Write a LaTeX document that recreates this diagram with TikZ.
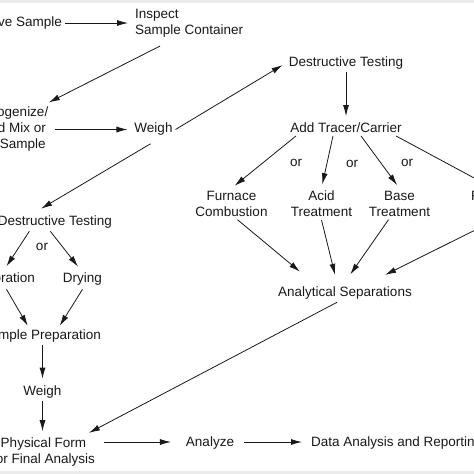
\documentclass[tikz,border=0pt]{standalone}
\usepackage{fontspec}
\setmainfont{Liberation Sans}
\usetikzlibrary{arrows.meta,calc}
\tikzset{
  lbl/.style={inner sep=3pt, outer sep=0pt, font=\fontsize{13.5pt}{16pt}\selectfont, text=black!90},
  arr/.style={draw=black!90, line width=0.8pt, -{Latex[length=11pt,width=6pt]}, shorten >=4pt},
  strip/.style={fill=black!8, draw=none}
}
\begin{document}
\begin{tikzpicture}[x=1pt,y=-1pt]
\useasboundingbox (0,0) rectangle (474,474);
\clip (0,0) rectangle (474,474);
\fill[white] (0,0) rectangle (474,474);
\fill[strip] (0,0) rectangle (474,3);
\fill[strip] (0,471) rectangle (474,474);

% nodes
\node[lbl, anchor=east] (recv) at (65,23) {Receive Sample};
\node[lbl, anchor=west, align=left] (insp) at (132,23) {Inspect\\Sample Container};
\node[lbl, align=center] (homog) at (8.5,129.5) {Homogenize/\\Blend Mix or\\Sub-Sample};
\node[lbl] (weigh1) at (153.5,129.5) {Weigh};
\node[lbl] (dt) at (346,63) {Destructive Testing};
\node[lbl] (at) at (346,128) {Add Tracer/Carrier};
\node[lbl, align=center] (furn) at (231.5,204) {Furnace\\Combustion};
\node[lbl, align=center] (acid) at (321.5,204) {Acid\\Treatment};
\node[lbl, align=center] (base) at (399.5,204) {Base\\Treatment};
\node[lbl, anchor=base west, text depth=19pt] (fus) at (468,200) {Fusion};
\node[lbl] (asep) at (345,293) {Analytical Separations};
\node[lbl, anchor=east] (ndt) at (115,222) {Non-Destructive Testing};
\node[lbl, anchor=east] (evap) at (38,279) {Evaporation};
\node[lbl] (dry) at (82.5,279) {Drying};
\node[lbl, anchor=east] (sprep) at (104,336) {Sample Preparation};
\node[lbl] (weigh2) at (42.5,392) {Weigh};
\node[lbl, align=center] (phys) at (43.5,452.5) {Physical Form\\for Final Analysis};
\node[lbl] (anal) at (210,443) {Analyze};
\node[lbl, anchor=west] (data) at (308,443) {Data Analysis and Reporting};

% "or" labels
\node[lbl] (or1) at (42,247) {or};
\node[lbl] (or2) at (296,163) {or};
\node[lbl] (or3) at (352,164) {or};
\node[lbl] (or4) at (407,163) {or};

% connectors
\draw[arr] (recv.east) -- (insp.west);
\draw[arr] ($(insp.south)+(-29,6)$) -- ($(homog.north east)+(-6,0)$);
\draw[arr] ($(homog.east)+(4,0)$) -- (weigh1.west);
\draw[arr] (weigh1.east) -- (dt.west);
\draw[arr] (dt.south) -- (at.north);
\draw[arr] ($(at.south)+(-50,0)$) -- (furn.north);
\draw[arr] ($(at.south)+(-13,0)$) -- (acid.north);
\draw[arr] ($(at.south)+(15,0)$) -- (base.north);
\draw[arr] ($(at.south)+(50,0)$) -- (fus.north);
\draw[arr] ($(furn.south)+(6,0)$) -- ($(asep.north)+(-42,-9.5)$);
\draw[arr] (acid.south) -- ($(asep.north)+(-9,-5)$);
\draw[arr] ($(base.south)+(-11,0)$) -- ($(asep.north)+(3,-6)$);
\draw[arr] (fus.south) -- ($(asep.north)+(36.5,-7)$);
\draw[arr] ($(weigh1.south)+(-3,5)$) -- ($(ndt.north)+(-2.7,-2)$);
\draw[arr] ($(ndt.south)+(-11,0)$) -- ($(evap.north)+(5.3,0)$);
\draw[arr] ($(ndt.south)+(10,0)$) -- ($(dry.north)+(-2,0)$);
\draw[arr] ($(evap.south)+(7.5,1)$) -- ($(sprep.north)+(-11.6,2.5)$);
\draw[arr] ($(dry.south)+(0,1)$) -- ($(sprep.north)+(16.3,2.4)$);
\draw[arr] (sprep.south -| weigh2.north) -- (weigh2.north);
\draw[arr] (weigh2.south) -- (weigh2.south |- phys.north);
\draw[arr] ($(asep.south)+(-8,0)$) -- ($(phys.north east)+(-12.5,-0.5)$);
\draw[arr] ($(phys.east)+(6,-10.5)$) -- ($(anal.west)+(-8,-1)$);
\draw[arr] ($(anal.east)+(7,-1)$) -- ($(data.west)+(-2,-1)$);
\end{tikzpicture}
\end{document}
